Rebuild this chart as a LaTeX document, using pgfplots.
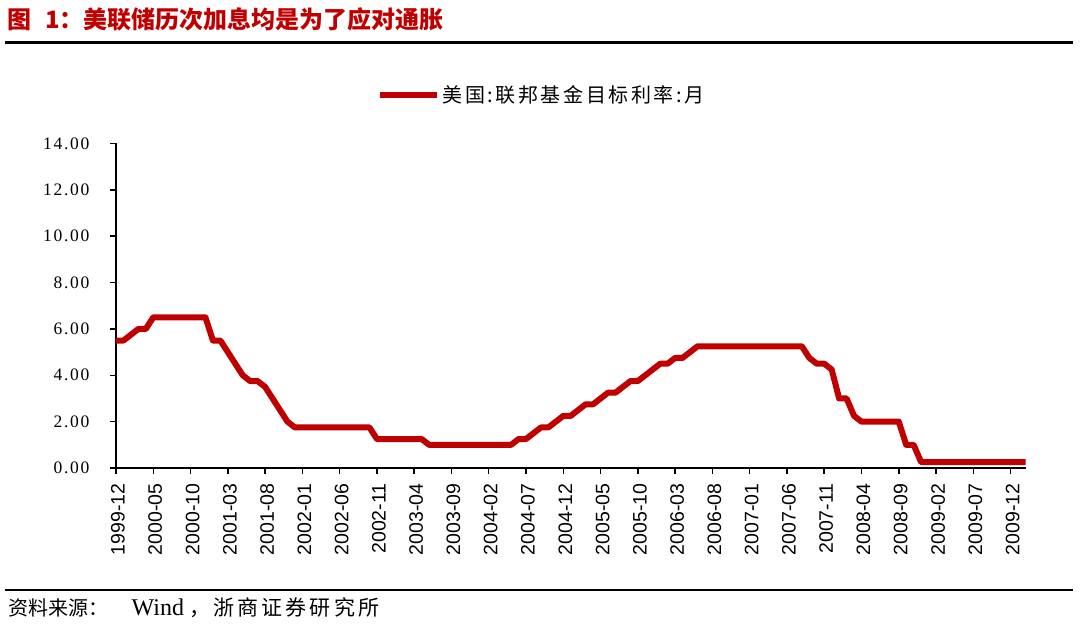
\documentclass[border=0pt]{standalone}
\usepackage{fontspec}
\usepackage{pgfplots}
\pgfplotsset{compat=1.18}
\setmainfont{Liberation Serif}
\newfontfamily\cjk{Noto Sans CJK SC}
\newfontfamily\cjksp{Noto Sans CJK SC}[LetterSpace=13]
\newfontfamily\cjksrc{Noto Sans CJK SC}[LetterSpace=15]
\newfontfamily\yfont{Liberation Serif}[LetterSpace=10]
\newfontfamily\xfont{Liberation Sans}
\definecolor{fred}{RGB}{192,0,0}
\begin{document}
\begin{tikzpicture}[x=1pt,y=1pt]
\useasboundingbox (0,0) rectangle (1080,630);
\node[anchor=west, text=fred, inner sep=0pt, font=\cjk\bfseries\fontsize{24}{24}\selectfont] at (7,611) {图\hspace{14pt}1：美联储历次加息均是为了应对通胀};
\draw[line width=2.5pt] (5,587.5) -- (1073,587.5);
\draw[line width=2pt] (5,40) -- (1073,40);
\node[anchor=base west, inner sep=0pt, font=\cjk\fontsize{20}{20}\selectfont] at (8,14.5) {资料来源：};
\node[anchor=base west, inner sep=0pt, font=\fontsize{24}{24}\selectfont] at (131.5,14.5) {Wind};
\node[anchor=base west, inner sep=0pt, font=\cjksrc\fontsize{21}{21}\selectfont] at (189,14.5) {，浙商证券研究所};
\begin{axis}[
  at={(116pt,162pt)}, anchor=south west,
  scale only axis, width=909.5pt, height=324.5pt,
  xmin=0, xmax=122, ymin=0, ymax=14,
  axis lines*=left,
  axis line style={line width=1.8pt, black},
  tick align=outside,
  major tick length=6pt,
  tick style={line width=1.5pt, black},
  ytick={0,2,...,14},
  yticklabel style={xshift=-17pt, font=\yfont\fontsize{17.5}{17.5}\selectfont, /pgf/number format/.cd, fixed, fixed zerofill, precision=2, assume math mode=true},
  xtick={0,5,...,120},
  xticklabels={1999-12,2000-05,2000-10,2001-03,2001-08,2002-01,2002-06,2002-11,2003-04,2003-09,2004-02,2004-07,2004-12,2005-05,2005-10,2006-03,2006-08,2007-01,2007-06,2007-11,2008-04,2008-09,2009-02,2009-07,2009-12},
  xticklabel style={yshift=-6pt, xshift=2pt, rotate=90, anchor=east, font=\xfont\fontsize{19.5}{19.5}\selectfont},
  legend style={at={(0.4685,1.149)}, anchor=center, draw=none, fill=none, font=\cjksp\fontsize{20}{20}\selectfont},
  legend image code/.code={\draw[#1] (0pt,0pt) -- (57pt,0pt);},
]
\addplot[fred, line width=6pt, line join=round] table {
x y
0 5.50
1 5.50
2 5.75
3 6.00
4 6.00
5 6.50
6 6.50
7 6.50
8 6.50
9 6.50
10 6.50
11 6.50
12 6.50
13 5.50
14 5.50
15 5.00
16 4.50
17 4.00
18 3.75
19 3.75
20 3.50
21 3.00
22 2.50
23 2.00
24 1.75
25 1.75
26 1.75
27 1.75
28 1.75
29 1.75
30 1.75
31 1.75
32 1.75
33 1.75
34 1.75
35 1.25
36 1.25
37 1.25
38 1.25
39 1.25
40 1.25
41 1.25
42 1.00
43 1.00
44 1.00
45 1.00
46 1.00
47 1.00
48 1.00
49 1.00
50 1.00
51 1.00
52 1.00
53 1.00
54 1.25
55 1.25
56 1.50
57 1.75
58 1.75
59 2.00
60 2.25
61 2.25
62 2.50
63 2.75
64 2.75
65 3.00
66 3.25
67 3.25
68 3.50
69 3.75
70 3.75
71 4.00
72 4.25
73 4.50
74 4.50
75 4.75
76 4.75
77 5.00
78 5.25
79 5.25
80 5.25
81 5.25
82 5.25
83 5.25
84 5.25
85 5.25
86 5.25
87 5.25
88 5.25
89 5.25
90 5.25
91 5.25
92 5.25
93 4.75
94 4.50
95 4.50
96 4.25
97 3.00
98 3.00
99 2.25
100 2.00
101 2.00
102 2.00
103 2.00
104 2.00
105 2.00
106 1.00
107 1.00
108 0.25
109 0.25
110 0.25
111 0.25
112 0.25
113 0.25
114 0.25
115 0.25
116 0.25
117 0.25
118 0.25
119 0.25
120 0.25
121 0.25
122 0.25
};
\addlegendentry{美国:联邦基金目标利率:月}
\end{axis}
\end{tikzpicture}
\end{document}
